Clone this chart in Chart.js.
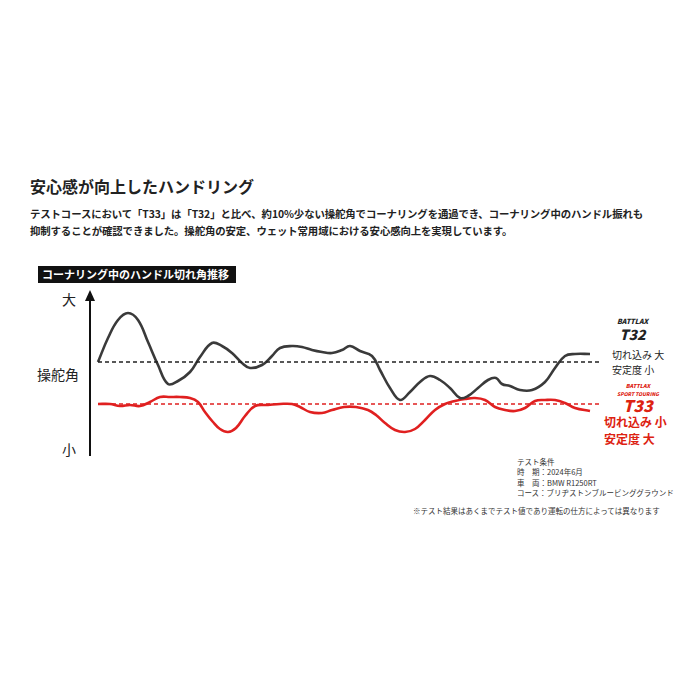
<!DOCTYPE html>
<html><head><meta charset="utf-8">
<script src="https://cdn.jsdelivr.net/npm/chart.js@4/dist/chart.umd.min.js"></script>
<style>
body{margin:0;width:700px;height:700px;background:#fff;font-family:"Noto Sans CJK JP",sans-serif;position:relative;overflow:hidden;color:#222}
.a{position:absolute;white-space:nowrap}
.a div{display:block}
#wrap{position:absolute;left:90px;top:290px;width:510px;height:165px}
</style></head><body>
<div class="a" style="left:30px;top:174px;font-size:16px;font-weight:bold">安心感が向上したハンドリング</div>
<div class="a" style="left:30px;top:205px;font-size:10.4px;font-weight:bold;line-height:17px;letter-spacing:-0.1px">テストコースにおいて「T33」は「T32」と比べ、約10%少ない操舵角でコーナリングを通過でき、コーナリング中のハンドル振れも<br>抑制することが確認できました。操舵角の安定、ウェット常用域における安心感向上を実現しています。</div>
<div class="a" style="left:38px;top:266px;width:194px;height:17px;background:#111;color:#fff;font-size:11px;font-weight:bold;line-height:17px;padding-left:4px">コーナリング中のハンドル切れ角推移</div>
<div class="a" style="left:89px;top:300px;width:2px;height:156px;background:#111"></div>
<div class="a" style="left:85px;top:290px;width:0;height:0;border-left:5px solid transparent;border-right:5px solid transparent;border-bottom:11px solid #111"></div>
<div class="a" style="left:62px;top:289px;font-size:14px">大</div>
<div class="a" style="left:37px;top:364px;font-size:14px">操舵角</div>
<div class="a" style="left:62px;top:439px;font-size:14px">小</div>
<div class="a" style="left:617px;top:316px;font-weight:900;font-style:italic;text-align:center">
  <div style="font-size:7px;line-height:10px">BATTLAX</div>
  <div style="font-size:14px;line-height:16px">T32</div>
</div>
<div class="a" style="left:612px;top:347px;font-size:10px;line-height:15px">切れ込み 大<br>安定度 小</div>
<div class="a" style="left:617px;top:383px;font-weight:900;font-style:italic;color:#d21;text-align:center">
  <div style="font-size:5.5px;line-height:7px">BATTLAX</div>
  <div style="font-size:5px;line-height:7px">SPORT TOURING</div>
  <div style="font-size:16px;line-height:17px">T33</div>
</div>
<div class="a" style="left:604px;top:413px;font-size:12px;font-weight:bold;color:#d21;line-height:17px">切れ込み 小<br>安定度 大</div>
<div class="a" style="left:517px;top:457px;font-size:7.5px;line-height:10.3px;color:#333">テスト条件<br>時　期：2024年6月<br>車　両：BMW R1250RT<br>コース：ブリヂストンブルービンググラウンド</div>
<div class="a" style="left:413px;top:505px;font-size:7.5px;color:#333">※テスト結果はあくまでテスト値であり運転の仕方によっては異なります</div>
<div id="wrap"><canvas id="c"></canvas></div>
<script>
// 操舵角（相対値、大きいほど切れ込み大）
const t32X = [98,108,118,128,138,148,158,168,178,190,200,212,222,232,242,250,262,272,280,292,302,312,322,332,342,350,360,372,380,390,400,410,420,430,440,450,460,468,478,488,496,502,510,520,532,545,555,565,575,590];
const t32Y = [98,122,140,147,140,118,95,76,79,88,103,117,114,107,97,92,95,104,112,114,113,110,108,107,110,114,109,104,90,72,60,68,78,84,80,72,62,64,72,80,82,76,74,70,70,78,92,104,106,106];
const t33X = [98,110,120,130,140,150,160,170,180,190,198,205,213,220,228,236,245,255,268,280,292,300,310,322,332,344,356,368,376,385,395,405,415,425,435,445,455,465,475,485,495,505,515,525,535,545,555,565,575,590];
const t33Y = [56,56,54,55,54,58,63,63,63,62,58,48,38,31,28,32,44,54,55,56,56,53,48,47,50,53,53,50,45,37,30,28,31,40,50,56,59,61,62,60,53,50,49,52,59,60,60,57,52,49];
const lvlX = [98,600];
const t32Lvl = [98,98];
const t33Lvl = [56,56];

const pts = (xs, ys) => xs.map((x, i) => ({ x, y: ys[i] }));

new Chart(document.getElementById("c"), {
    type: "line",
    data: {
        datasets: [
            { data: pts(lvlX, t32Lvl), borderColor: "#222", borderWidth: 1.3, borderDash: [4, 3], pointRadius: 0 },
            { data: pts(lvlX, t33Lvl), borderColor: "#e02020", borderWidth: 1.3, borderDash: [4, 3], pointRadius: 0 },
            { data: pts(t32X, t32Y), borderColor: "#3a3a3a", borderWidth: 2.6, tension: 0.4, pointRadius: 0 },
            { data: pts(t33X, t33Y), borderColor: "#e02020", borderWidth: 2.6, tension: 0.4, pointRadius: 0 }
        ]
    },
    options: {
        responsive: true,
        maintainAspectRatio: false,
        animation: false,
        layout: { padding: 0 },
        plugins: { legend: { display: false }, tooltip: { enabled: false } },
        scales: {
            x: { type: "linear", min: 90, max: 600, display: false },
            y: { min: 5, max: 170, display: false }
        }
    }
});
</script>
</body></html>
